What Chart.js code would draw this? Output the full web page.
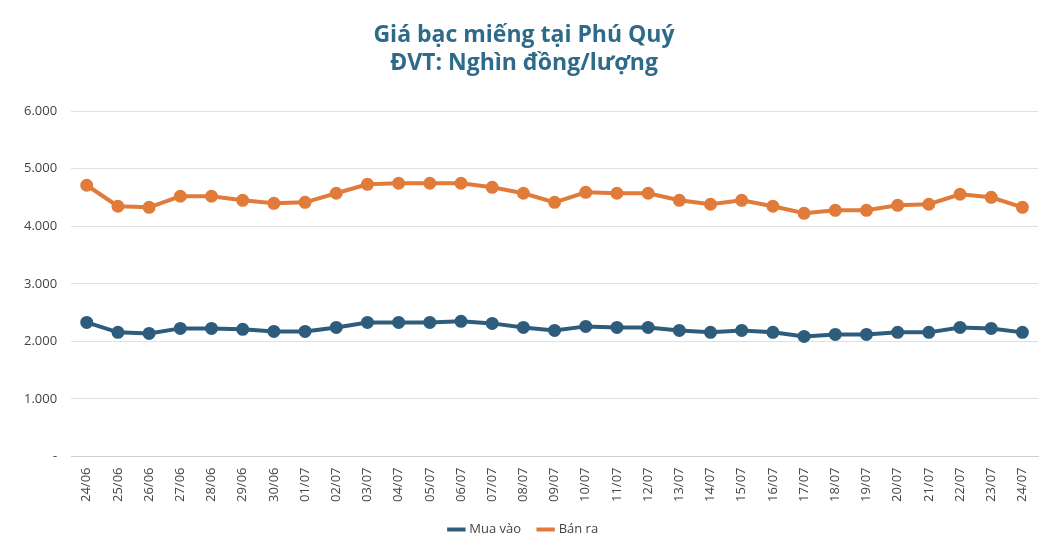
<!DOCTYPE html>
<html><head><meta charset="utf-8">
<script src="https://cdn.jsdelivr.net/npm/chart.js@4"></script>
<style>html,body{margin:0;padding:0;background:#fff}#w{width:1050px;height:552px}</style>
</head><body><div id="w"><canvas id="c"></canvas></div>
<script>
const categories=["24/06","25/06","26/06","27/06","28/06","29/06","30/06","01/07","02/07","03/07","04/07","05/07","06/07","07/07","08/07","09/07","10/07","11/07","12/07","13/07","14/07","15/07","16/07","17/07","18/07","19/07","20/07","21/07","22/07","23/07","24/07"];
const muaVao=[2330,2157,2139,2226,2226,2209,2174,2174,2243,2330,2330,2330,2348,2313,2243,2191,2261,2243,2243,2191,2157,2191,2157,2087,2122,2122,2157,2157,2243,2226,2157];
const banRa=[4713,4348,4330,4522,4522,4452,4400,4417,4574,4730,4748,4748,4748,4678,4574,4417,4591,4574,4574,4452,4383,4452,4348,4226,4278,4278,4365,4383,4557,4504,4330];
const blue="#2d5c7c",orange="#e07b39";
new Chart(document.getElementById('c'),{type:'line',
data:{labels:categories,datasets:[
{label:'Mua vào',data:muaVao,borderColor:blue,backgroundColor:blue,borderWidth:4,pointRadius:4.5,pointHoverRadius:4.5},
{label:'Bán ra',data:banRa,borderColor:orange,backgroundColor:orange,borderWidth:4,pointRadius:4.5,pointHoverRadius:4.5}]},
options:{responsive:true,maintainAspectRatio:false,animation:false,
layout:{padding:{left:10,right:12,top:18,bottom:6}},
plugins:{title:{display:true,text:['Giá bạc miếng tại Phú Quý','ĐVT: Nghìn đồng/lượng'],color:'#2e6b8a',font:{family:'Open Sans',size:23,weight:'bold'},padding:{top:4,bottom:34},lineHeight:1.45},
legend:{position:'bottom',labels:{usePointStyle:true,pointStyle:'line',font:{family:'Open Sans',size:13},color:'#444',padding:18,generateLabels(ch){return ch.data.datasets.map((d,i)=>({text:d.label,fillStyle:d.borderColor,strokeStyle:d.borderColor,lineWidth:4,pointStyle:'line',datasetIndex:i,fontColor:'#444'}));}}}},
scales:{x:{offset:true,grid:{display:false,drawTicks:true},border:{color:'#d0d0d0'},ticks:{minRotation:90,maxRotation:90,color:'#444',font:{family:'Open Sans',size:13}}},
y:{min:0,max:6000,ticks:{stepSize:1000,color:'#444',font:{family:'Open Sans',size:13},padding:14,callback:v=>v===0?'-':v.toLocaleString('de-DE')},grid:{color:'#e0e0e0',drawTicks:false},border:{display:false}}}}});
</script></body></html>
